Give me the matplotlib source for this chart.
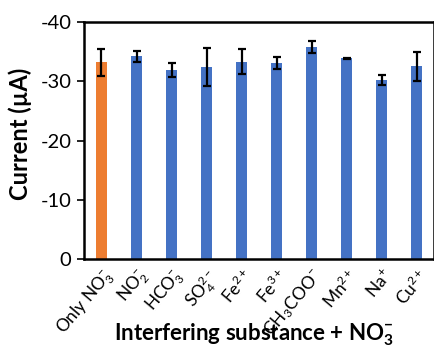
import matplotlib
matplotlib.use("Agg")
import matplotlib.pyplot as plt
import numpy as np

plt.rcParams['font.family'] = ['Lato', 'DejaVu Sans']
plt.rcParams['mathtext.fontset'] = 'custom'
plt.rcParams['mathtext.rm'] = 'Lato'
plt.rcParams['mathtext.it'] = 'Lato:italic'
plt.rcParams['mathtext.bf'] = 'Lato:bold'

categories = ['Only NO$_3^{-}$', 'NO$_2^{-}$', 'HCO$_3^{-}$', 'SO$_4^{2-}$', 'Fe$^{2+}$',
              'Fe$^{3+}$', 'CH$_3$COO$^{-}$', 'Mn$^{2+}$', 'Na$^{+}$', 'Cu$^{2+}$']
values = [-33.2, -34.2, -31.9, -32.4, -33.3, -33.1, -35.75, -33.85, -30.2, -32.5]
errors = [2.3, 0.9, 1.1, 3.2, 2.1, 1.0, 1.05, 0.15, 0.8, 2.45]
colors = ['#ED7D31'] + ['#4472C4'] * 9

fig = plt.figure(figsize=(4.35, 3.46), dpi=100)
ax = fig.add_axes([84/435, 1 - 259/346, (434-84)/435, (259-22)/346])
x = np.arange(len(categories))
ax.bar(x, values, width=0.31, color=colors, yerr=errors, capsize=3,
       error_kw=dict(ecolor='black', elinewidth=1.6, capthick=1.6))
ax.set_xlim(-0.5, len(categories) - 0.5)
ax.set_ylim(0, -40)
ax.set_yticks([0, -10, -20, -30, -40])
ax.set_yticklabels(['0', '-10', '-20', '-30', '-40'], fontsize=14.5)
ax.set_xticks(x)
ax.set_xticklabels(categories, rotation=50, ha='right', rotation_mode='anchor', fontsize=12.5)
ax.tick_params(axis='x', length=0, pad=5)
ax.tick_params(axis='y', length=5, width=1.2, pad=4)
for s in ax.spines.values():
    s.set_linewidth(1.8)
fig.text(20/435, 1 - 134/346, 'Current (µA)', fontsize=17, fontweight='bold',
         rotation=90, ha='center', va='center')
fig.text(254/435, 6/346, 'Interfering substance + NO$_\\mathbf{3}^{\\mathbf{-}}$', fontsize=16,
         fontweight='bold', ha='center', va='baseline')
fig.savefig('out.png', dpi=100)
